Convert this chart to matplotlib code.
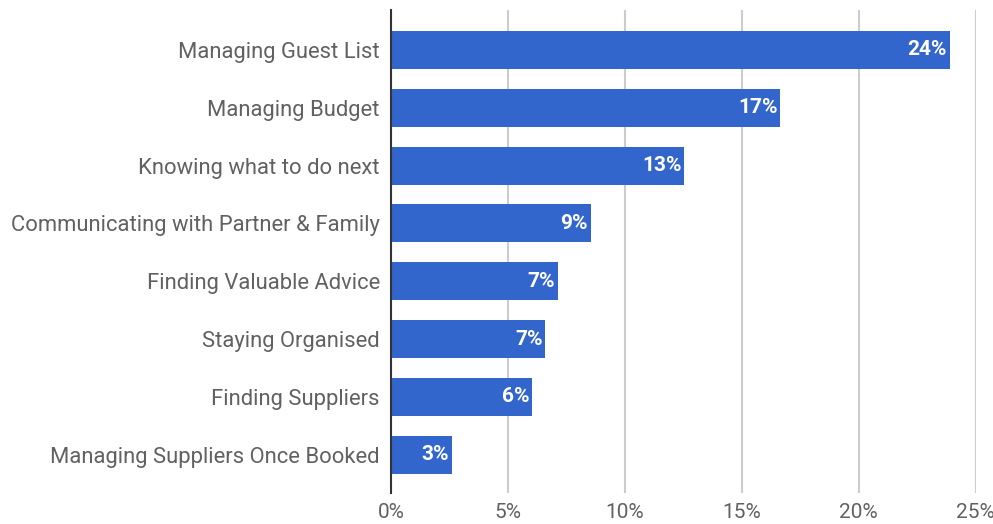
import matplotlib
matplotlib.use("Agg")
import matplotlib.pyplot as plt

plt.rcParams['font.family'] = ['Roboto', 'DejaVu Sans']

# share of respondents naming each as their biggest challenge (%)
challenges = ["Managing Guest List", "Managing Budget", "Knowing what to do next",
              "Communicating with Partner & Family", "Finding Valuable Advice",
              "Staying Organised", "Finding Suppliers", "Managing Suppliers Once Booked"]
shares = [23.9, 16.65, 12.55, 8.55, 7.15, 6.6, 6.05, 2.6]
ticks = [0, 5, 10, 15, 20, 25]

blue = "#3366cc"
grey = "#616161"

fig = plt.figure(figsize=(9.93, 5.24), dpi=100)
ax = fig.add_axes([0.3937, 0.0592, 0.9824 - 0.3937, 0.981 - 0.0592])

pos = list(range(len(challenges)))
ax.barh(pos, shares, height=0.655, color=blue, zorder=3)
for y, v in zip(pos, shares):
    ax.text(v - 0.12, y, f"{v:.0f}%", ha="right", va="center", color="white",
            fontsize=15, fontweight="bold", zorder=4)

ax.set_xlim(0, 25)
ax.set_ylim(7.66, -0.69)
ax.set_yticks(pos)
ax.set_yticklabels(challenges, fontsize=15.8, color=grey)
ax.set_xticks(ticks)
ax.set_xticklabels([f"{t}%" for t in ticks], fontsize=15, color=grey)
ax.tick_params(axis="both", length=0)
ax.tick_params(axis="y", pad=8)
ax.tick_params(axis="x", pad=7)

ax.grid(axis="x", color="#cccccc", linewidth=1.5, zorder=0)
for s in ["top", "right", "bottom"]:
    ax.spines[s].set_visible(False)
ax.spines["left"].set_color("#333333")
ax.spines["left"].set_linewidth(1.5)
ax.spines["left"].set_zorder(5)

fig.savefig("out.png", dpi=100)
